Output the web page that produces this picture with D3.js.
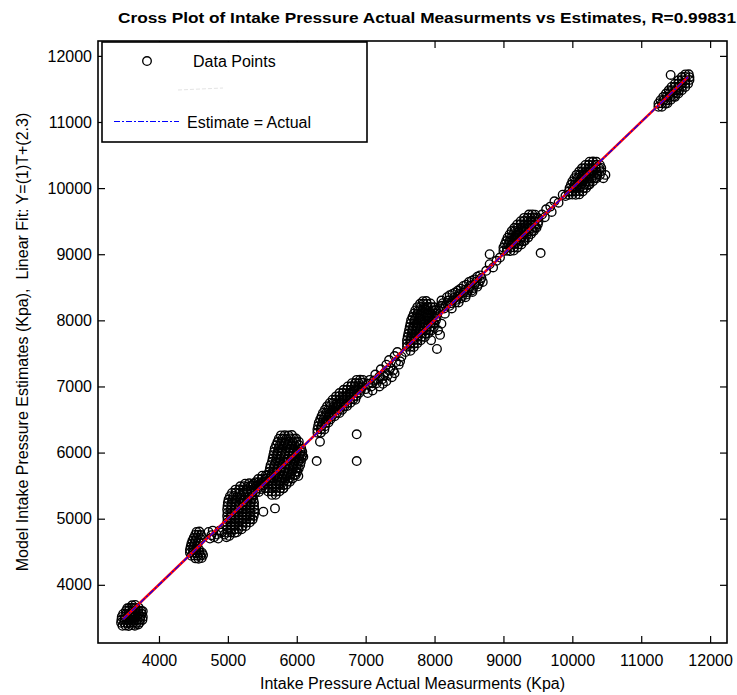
<!DOCTYPE html>
<html><head><meta charset="utf-8">
<script src="https://cdn.jsdelivr.net/npm/d3@7"></script>
<style>body{margin:0;background:#fff}text{font-family:"Liberation Sans",Arial,sans-serif}</style>
</head><body><svg id="c" width="737" height="695"></svg>
<script>
const titleText = "Cross Plot of Intake Pressure Actual Measurments vs Estimates, R=0.99831";
const xLabel = "Intake Pressure Actual Measurments (Kpa)";
const yLabel = "Model Intake Pressure Estimates (Kpa),  Linear Fit: Y=(1)T+(2.3)";
const xTicks = [4000,5000,6000,7000,8000,9000,10000,11000,12000];
const yTicks = [4000,5000,6000,7000,8000,9000,10000,11000,12000];
const fitSlope = 1, fitIntercept = 2.3;
const lineRange = [3480, 11680];

// clusters: flat lists of (actual, estimate) pairs
const clA = [3470,3380,3515,3385,3560,3378,3605,3390,3650,3382,
3450,3425,3495,3428,3540,3420,3585,3430,3630,3425,3675,3422,3720,3430,
3455,3470,3500,3472,3545,3468,3590,3475,3635,3470,3680,3466,3725,3474,3760,3470,
3460,3515,3505,3518,3550,3512,3595,3520,3640,3515,3685,3510,3730,3518,3765,3515,
3480,3560,3525,3562,3570,3556,3615,3565,3660,3560,3705,3555,3750,3562,
3520,3605,3565,3608,3610,3600,3655,3610,3700,3604,3740,3608,
3570,3650,3615,3652,3660,3646,3705,3655,3610,3690,3655,3695,3540,3645,3700,3400,3765,3600];
const clB = [4530,4400,4575,4395,4620,4405,
4470,4440,4515,4445,4560,4438,4605,4442,4640,4450,
4450,4485,4495,4488,4540,4482,4585,4490,4625,4485,
4450,4530,4495,4532,4540,4528,4580,4535,
4460,4575,4500,4578,4545,4572,4470,4620,4515,4622,4560,4618,
4485,4665,4530,4668,4575,4662,4505,4710,4550,4712,4595,4708,
4525,4755,4570,4758,4610,4752,4545,4800,4585,4805];
const clC = [4720,4800,4760,4750,4800,4720,4840,4760,4880,4820,4910,4790,4950,4760,4980,4720,5020,4740,4860,4700,4780,4820,4740,4700];
const clD = [4990,4790,5045,4792,5100,4788,5130,4795,
4990,4840,5045,4842,5100,4838,5155,4845,5200,4840,
4990,4890,5045,4892,5100,4888,5155,4895,5210,4890,5260,4888,
4990,4940,5045,4942,5100,4938,5155,4945,5210,4940,5265,4938,5320,4945,
4995,4990,5050,4992,5105,4988,5160,4995,5215,4990,5270,4988,5325,4995,5360,4990,
4990,5040,5045,5042,5100,5038,5155,5045,5210,5040,5265,5038,5320,5045,5375,5040,
4995,5090,5050,5092,5105,5088,5160,5095,5215,5090,5270,5088,5325,5095,5385,5090,
4990,5140,5045,5142,5100,5138,5155,5145,5210,5140,5265,5138,5320,5145,5385,5140,
4995,5190,5050,5192,5105,5188,5160,5195,5215,5190,5270,5188,5325,5195,5380,5190,
5000,5240,5055,5242,5110,5238,5165,5245,5220,5240,5275,5238,5330,5245,5380,5240,
5010,5290,5065,5292,5120,5288,5175,5295,5230,5290,5285,5288,5340,5295,5370,5290,
5030,5340,5085,5342,5140,5338,5195,5345,5250,5340,5305,5338,5360,5345,
5060,5390,5115,5392,5170,5388,5225,5395,5280,5390,5345,5388,
5110,5440,5165,5442,5220,5438,5275,5445,5335,5440,
5180,5490,5235,5492,5290,5488,5330,5495,5250,5530,5310,5535,5370,5528,
5400,5400,5450,5405,5380,5450,5430,5452,5480,5448,5360,5500,5410,5502,5460,5498,5510,5505,
5400,5550,5450,5552,5500,5548,5440,5600,5490,5602,5540,5598,5500,5650,5550,5652];
const clE = [5640,5360,5695,5362,
5585,5410,5640,5412,5695,5408,5750,5415,
5540,5460,5595,5462,5650,5458,5705,5465,5760,5460,5805,5458,
5530,5510,5585,5512,5640,5508,5695,5515,5750,5510,5805,5508,5850,5515,
5540,5560,5595,5562,5650,5558,5705,5565,5760,5560,5815,5558,5870,5565,5900,5560,
5560,5610,5615,5612,5670,5608,5725,5615,5780,5610,5835,5608,5890,5615,5940,5610,
5580,5660,5635,5662,5690,5658,5745,5665,5800,5660,5855,5658,5910,5665,5965,5660,5985,5662,
5600,5710,5655,5712,5710,5708,5765,5715,5820,5710,5875,5708,5930,5715,5985,5710,6010,5712,
5610,5760,5665,5762,5720,5758,5775,5765,5830,5760,5885,5758,5940,5765,5995,5760,6030,5762,
5620,5810,5675,5812,5730,5808,5785,5815,5840,5810,5895,5808,5950,5815,6005,5810,6050,5812,
5640,5860,5695,5862,5750,5858,5805,5865,5860,5860,5915,5858,5970,5865,6025,5860,6060,5862,
5650,5910,5705,5912,5760,5908,5815,5915,5870,5910,5925,5908,5980,5915,6035,5910,6070,5912,
5660,5960,5715,5962,5770,5958,5825,5965,5880,5960,5935,5958,5990,5965,6045,5960,6080,5962,
5670,6010,5725,6012,5780,6008,5835,6015,5890,6010,5945,6008,6000,6015,6055,6010,6080,6012,
5680,6060,5735,6062,5790,6058,5845,6065,5900,6060,5955,6058,6010,6065,6065,6060,
5700,6110,5755,6112,5810,6108,5865,6115,5920,6110,5975,6108,6030,6115,
5720,6160,5775,6162,5830,6158,5885,6165,5940,6160,5995,6158,6030,6165,
5740,6210,5795,6212,5850,6208,5905,6215,5960,6210,5990,6212,
5770,6260,5825,6262,5880,6258,5930,6265,
5515,5106,5684,5156,6095,5938,6337,6165,6289,5872,6023,5645,5805,5459];
const clF = [6300,6300,6350,6302,
6300,6350,6350,6352,6400,6348,
6310,6400,6360,6402,6410,6398,
6320,6450,6370,6452,6420,6448,6460,6455,
6340,6500,6390,6502,6440,6498,6490,6505,
6360,6550,6410,6552,6460,6548,6510,6555,6550,6550,
6380,6600,6430,6602,6480,6598,6530,6605,6580,6600,6620,6598,
6410,6650,6460,6652,6510,6648,6560,6655,6610,6650,6660,6648,
6440,6700,6490,6702,6540,6698,6590,6705,6640,6700,6690,6698,6730,6705,
6480,6750,6530,6752,6580,6748,6630,6755,6680,6750,6730,6748,6780,6755,
6520,6800,6570,6802,6620,6798,6670,6805,6720,6800,6770,6798,6820,6805,6850,6800,
6570,6850,6620,6852,6670,6848,6720,6855,6770,6850,6820,6848,6870,6855,
6620,6900,6670,6902,6720,6898,6770,6905,6820,6900,6870,6898,6910,6905,
6680,6950,6730,6952,6780,6948,6830,6955,6880,6950,6930,6948,
6740,7000,6790,7002,6840,6998,6890,7005,6940,7000,
6800,7050,6850,7052,6900,7048,6950,7055,6870,7100,6920,7102,6960,7098,
6870,6277,6870,5872];
const clG = [7000,6960,7040,7040,7080,7000,7120,7090,7160,7050,7200,7150,7240,7110,7280,7210,7320,7170,7360,7280,7400,7240,7440,7370,7480,7330,7520,7450,7100,6940,7250,7040,7380,7140,7200,7000,7060,7100,7140,7180,7220,7260,7300,7330,7340,7400,7420,7460,7460,7520,7030,6900,7300,7080,7420,7200,7500,7380,7180,7100,7260,7160,7100,7050,7340,7240];
const clH = [7600,7600,7650,7602,7700,7598,
7600,7650,7650,7652,7700,7648,7750,7655,
7600,7700,7650,7702,7700,7698,7750,7705,7800,7700,
7610,7750,7660,7752,7710,7748,7760,7755,7810,7750,7860,7748,
7620,7800,7670,7802,7720,7798,7770,7805,7820,7800,7870,7798,7910,7805,
7630,7850,7680,7852,7730,7848,7780,7855,7830,7850,7880,7848,7930,7855,7960,7850,
7640,7900,7690,7902,7740,7898,7790,7905,7840,7900,7890,7898,7940,7905,7990,7900,
7650,7950,7700,7952,7750,7948,7800,7955,7850,7950,7900,7948,7950,7955,8000,7950,
7660,8000,7710,8002,7760,7998,7810,8005,7860,8000,7910,7998,7960,8005,8020,8000,
7680,8050,7730,8052,7780,8048,7830,8055,7880,8050,7930,8048,7980,8055,8030,8050,
7700,8100,7750,8102,7800,8098,7850,8105,7900,8100,7950,8098,8000,8105,8040,8100,
7720,8150,7770,8152,7820,8148,7870,8155,7920,8150,7970,8148,8020,8155,
7750,8200,7800,8202,7850,8198,7900,8205,7950,8200,8000,8198,
7790,8250,7840,8252,7890,8248,7940,8255,7830,8290,7880,8292,
8050,7850,8100,7950,8035,7567,7950,7700,8080,7780,7580,7520,7650,7540];
const clI = [8060,8150,8100,8220,8140,8180,8180,8260,8220,8220,8260,8300,8300,8270,8340,8360,8380,8330,8420,8420,8460,8390,8500,8480,8540,8450,8580,8540,8620,8510,8660,8600,8700,8580,8100,8300,8180,8350,8260,8400,8340,8450,8420,8520,8500,8580,8580,8620,8660,8680,8150,8100,8250,8180,8350,8270,8450,8350,8550,8430,
8080,8200,8120,8260,8160,8220,8200,8300,8240,8260,8280,8340,8320,8310,8360,8400,8400,8370,8440,8460,8480,8430,8520,8520,8560,8490,8600,8580,8640,8550,8680,8640,8220,8380,8300,8420,8380,8480,8460,8540,8540,8600,8620,8660,
8800,9000,8750,8750,8800,8850,8850,8800,8900,8900,8950,8950];
const clJ = [9000,9050,9050,9052,9100,9048,9150,9055,
9000,9100,9050,9102,9100,9098,9150,9105,9200,9100,
9020,9150,9070,9152,9120,9148,9170,9155,9220,9150,9260,9148,
9040,9200,9090,9202,9140,9198,9190,9205,9240,9200,9290,9198,9310,9205,
9060,9250,9110,9252,9160,9248,9210,9255,9260,9250,9310,9248,9360,9255,
9090,9300,9140,9302,9190,9298,9240,9305,9290,9300,9340,9298,9400,9305,
9120,9350,9170,9352,9220,9348,9270,9355,9320,9350,9370,9348,9420,9355,9440,9350,
9160,9400,9210,9402,9260,9398,9310,9405,9360,9400,9410,9398,9460,9405,9480,9400,
9200,9450,9250,9452,9300,9448,9350,9455,9400,9450,9450,9448,9500,9455,
9250,9500,9300,9502,9350,9498,9400,9505,9450,9500,9510,9498,
9300,9550,9350,9552,9400,9548,9450,9555,9500,9550,9370,9600,9420,9602,9460,9598,
9540,9018];
const clK = [9560,9600,9620,9680,9680,9720,9740,9800,9800,9780,9860,9900,9700,9640,9600,9560,9900,9880];
const clL = [9950,9900,10000,9902,10050,9898,10100,9905,
9950,9950,10000,9952,10050,9948,10100,9955,10150,9950,
9960,10000,10010,10002,10060,9998,10110,10005,10160,10000,10200,10002,
9980,10050,10030,10052,10080,10048,10130,10055,10180,10050,10230,10048,10250,10055,
10000,10100,10050,10102,10100,10098,10150,10105,10200,10100,10250,10098,10300,10105,
10030,10150,10080,10152,10130,10148,10180,10155,10230,10150,10280,10148,10330,10155,10350,10150,
10060,10200,10110,10202,10160,10198,10210,10205,10260,10200,10310,10198,10360,10205,10400,10200,
10100,10250,10150,10252,10200,10248,10250,10255,10300,10250,10350,10248,10420,10255,
10140,10300,10190,10302,10240,10298,10290,10305,10340,10300,10390,10298,10420,10305,
10190,10350,10240,10352,10290,10348,10340,10355,10400,10350,
10250,10400,10300,10402,10350,10398,10450,10150,10480,10200];
const clM = [11250,11230,11300,11232,
11250,11280,11300,11282,11350,11278,11380,11285,
11280,11330,11330,11332,11380,11328,11430,11335,
11320,11380,11370,11382,11420,11378,11470,11385,11490,11380,
11360,11430,11410,11432,11460,11428,11510,11435,11540,11430,
11400,11480,11450,11482,11500,11478,11550,11485,11590,11480,
11440,11530,11490,11532,11540,11528,11590,11535,11640,11530,
11490,11580,11540,11582,11590,11578,11640,11585,11680,11580,
11540,11630,11590,11632,11640,11628,11700,11635,
11590,11680,11640,11682,11700,11678,11640,11720,11690,11722,
11427,11711];

function pairs(a){ const out=[]; for(let i=0;i<a.length;i+=2) out.push([a[i],a[i+1]]); return out; }
const points = [clA,clB,clC,clD,clE,clF,clG,clH,clI,clJ,clK,clL,clM].flatMap(pairs);

const svg = d3.select("#c");
const L = 98, R = 727, T = 41, B = 643;
const x = d3.scaleLinear().domain([3115,12245]).range([L,R]);
const y = d3.scaleLinear().domain([3120,12225]).range([B,T]);

svg.append("g").selectAll("circle").data(points).join("circle")
  .attr("cx", d=>x(d[0])).attr("cy", d=>y(d[1])).attr("r",4.3)
  .attr("fill","none").attr("stroke","#000").attr("stroke-width",1.35);

const lx = lineRange;
svg.append("line").attr("x1",x(lx[0])).attr("y1",y(fitSlope*lx[0]+fitIntercept))
  .attr("x2",x(lx[1])).attr("y2",y(fitSlope*lx[1]+fitIntercept))
  .attr("stroke","#ff0000").attr("stroke-width",2.6);
svg.append("line").attr("x1",x(lx[0])).attr("y1",y(lx[0]))
  .attr("x2",x(lx[1])).attr("y2",y(lx[1]))
  .attr("stroke","#0000ff").attr("stroke-width",1.2).attr("stroke-dasharray","6,2,2,2");

const fs = "16px";
const ax = svg.append("g").attr("transform",`translate(0,${B})`)
  .call(d3.axisBottom(x).tickValues(xTicks).tickSize(-7).tickPadding(12).tickFormat(d3.format("d")));
const ay = svg.append("g").attr("transform",`translate(${L},0)`)
  .call(d3.axisLeft(y).tickValues(yTicks).tickSize(-7).tickPadding(6).tickFormat(d3.format("d")));
const at = svg.append("g").attr("transform",`translate(0,${T})`)
  .call(d3.axisTop(x).tickValues(xTicks).tickSize(-7).tickFormat(""));
const ar = svg.append("g").attr("transform",`translate(${R},0)`)
  .call(d3.axisRight(y).tickValues(yTicks).tickSize(-7).tickFormat(""));
[ax,ay,at,ar].forEach(g=>{
  g.select(".domain").remove();
  g.selectAll(".tick line").attr("stroke","#000").attr("stroke-width",1.2);
  g.selectAll(".tick text").attr("fill","#000").style("font-size",fs).style("font-family","Liberation Sans, Arial, sans-serif");
});
svg.append("rect").attr("x",L).attr("y",T).attr("width",R-L).attr("height",B-T)
  .attr("fill","none").attr("stroke","#000").attr("stroke-width",1.6);

svg.append("text").attr("x",427).attr("y",23).attr("text-anchor","middle")
  .style("font-size","14px").style("font-weight","bold").attr("textLength",618).attr("lengthAdjust","spacingAndGlyphs")
  .text(titleText);
svg.append("text").attr("x",(L+R)/2).attr("y",689).attr("text-anchor","middle").style("font-size",fs).text(xLabel);
svg.append("text").attr("transform",`translate(28,${(T+B)/2}) rotate(-90)`).attr("text-anchor","middle")
  .style("font-size",fs).style("white-space","pre").text(yLabel);

const lg = svg.append("g");
lg.append("rect").attr("x",102).attr("y",42).attr("width",265).attr("height",100)
  .attr("fill","#fff").attr("stroke","#000").attr("stroke-width",1.6);
lg.append("circle").attr("cx",147).attr("cy",61).attr("r",4.3).attr("fill","none").attr("stroke","#000").attr("stroke-width",1.35);
lg.append("text").attr("x",193).attr("y",67).style("font-size",fs).text("Data Points");
lg.append("line").attr("x1",178).attr("x2",223).attr("y1",90).attr("y2",88).attr("stroke","#e4e4e4").attr("stroke-width",1).attr("stroke-dasharray","4,2");
lg.append("line").attr("x1",114).attr("x2",179).attr("y1",121.5).attr("y2",121.5).attr("stroke","#0000ff").attr("stroke-width",1.2).attr("stroke-dasharray","6,2,2,2");
lg.append("text").attr("x",187).attr("y",128).style("font-size",fs).text("Estimate = Actual");
</script></body></html>
